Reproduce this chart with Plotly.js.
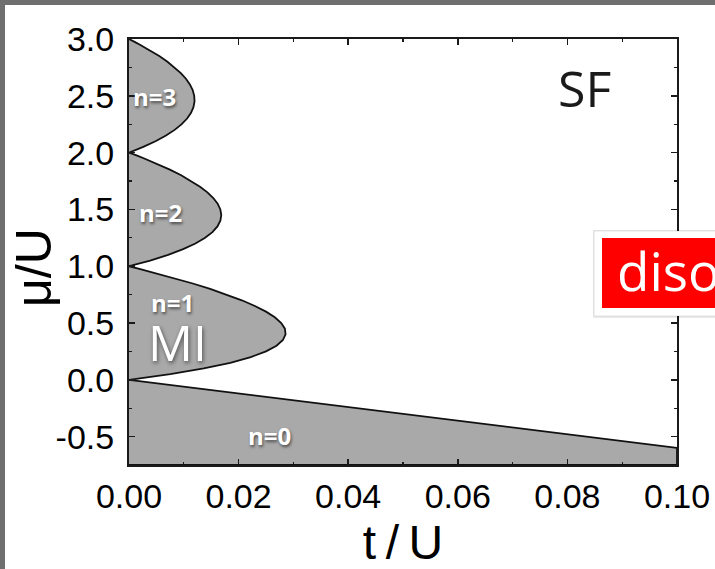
<!DOCTYPE html>
<html>
<head>
<meta charset="utf-8">
<script src="https://cdn.plot.ly/plotly-3.0.1.min.js"></script>
<style>
  html, body { margin: 0; padding: 0; background: #ffffff; }
  #chart { width: 715px; height: 569px; }
</style>
</head>
<body>
<div id="chart"></div>
<script>
// ---- data ----
// n = 0 region boundary (μ/U vs t/U)
const n0T  = [0, 0.1];
const n0Mu = [0, -0.6];

// Mott lobe n = 1
const lobe1Mu = [0, 0.025, 0.05, 0.1, 0.15, 0.2, 0.25, 0.3, 0.35, 0.4, 0.45, 0.5, 0.55, 0.6, 0.65, 0.7, 0.75, 0.8, 0.85, 0.9, 0.95, 0.975, 1.0];
const lobe1T  = [0, 0.00396, 0.00754, 0.01364, 0.01848, 0.02222, 0.02500, 0.02692, 0.02809, 0.02857, 0.02845, 0.02778, 0.02661, 0.02500, 0.02298, 0.02059, 0.01786, 0.01481, 0.01149, 0.00789, 0.00406, 0.00206, 0];

// Mott lobe n = 2
const lobe2Mu = [1.0, 1.025, 1.05, 1.1, 1.15, 1.2, 1.25, 1.3, 1.35, 1.4, 1.45, 1.5, 1.55, 1.6, 1.65, 1.7, 1.75, 1.8, 1.85, 1.9, 1.95, 1.975, 2.0];
const lobe2T  = [0, 0.00201, 0.00386, 0.00714, 0.00988, 0.01212, 0.01389, 0.01522, 0.01614, 0.01667, 0.01684, 0.01667, 0.01618, 0.01538, 0.01431, 0.01296, 0.01136, 0.00952, 0.00746, 0.00517, 0.00268, 0.00137, 0];

// Mott lobe n = 3
const lobe3Mu = [2.0, 2.025, 2.05, 2.1, 2.15, 2.2, 2.25, 2.3, 2.35, 2.4, 2.45, 2.5, 2.55, 2.6, 2.65, 2.7, 2.75, 2.8, 2.85, 2.9, 2.95, 2.975, 3.0];
const lobe3T  = [0, 0.00134, 0.00260, 0.00484, 0.00675, 0.00833, 0.00962, 0.01061, 0.01132, 0.01176, 0.01196, 0.01190, 0.01162, 0.01111, 0.01039, 0.00946, 0.00833, 0.00702, 0.00552, 0.00385, 0.00200, 0.00102, 0];

// region labels
const regionLabels = ['n=3', 'n=2', 'n=1', 'n=0'];
const labelT  = [0.0047, 0.0058, 0.0079, 0.0256];
const labelMu = [2.49, 1.47, 0.68, -0.49];

// phase names
const phaseNames = ['MI', 'SF'];
const phaseT  = [0.0088, 0.0832];
const phaseMu = [0.33, 2.57];

// axes
const xRange = [0, 0.1];
const yRange = [-0.75, 3.0];
const xTickVals = [0, 0.02, 0.04, 0.06, 0.08, 0.10];
const xTickText = ['0.00', '0.02', '0.04', '0.06', '0.08', '0.10'];
const yTickVals = [-0.5, 0, 0.5, 1.0, 1.5, 2.0, 2.5, 3.0];
const yTickText = ['-0.5', '0.0', '0.5', '1.0', '1.5', '2.0', '2.5', '3.0'];
const xMinorVals = [0.01, 0.03, 0.05, 0.07, 0.09];
const yMinorVals = [-0.75, -0.25, 0.25, 0.75, 1.25, 1.75, 2.25, 2.75];
const xTitle = 't\u2009/\u2009U';
const yTitle = 'μ/U';

const bannerText = 'diso';

// ---- styling ----
const FILL = '#a9a9a9';
const LINE = {color: '#111111', width: 1.8};
const FRAME = '#6f6f6f';

const traces = [
  {
    x: n0T.concat([xRange[1], xRange[0]]),
    y: n0Mu.concat([yRange[0], yRange[0]]),
    mode: 'lines', fill: 'toself', fillcolor: FILL, line: LINE, hoverinfo: 'skip'
  },
  { x: lobe1T, y: lobe1Mu, mode: 'lines', fill: 'toself', fillcolor: FILL, line: LINE, hoverinfo: 'skip' },
  { x: lobe2T, y: lobe2Mu, mode: 'lines', fill: 'toself', fillcolor: FILL, line: LINE, hoverinfo: 'skip' },
  { x: lobe3T, y: lobe3Mu, mode: 'lines', fill: 'toself', fillcolor: FILL, line: LINE, hoverinfo: 'skip' }
];

const W = 715, H = 569;
const mL = 129, mR = 38, mT = 39, mB = 104;
const pw = W - mL - mR, ph = H - mT - mB;
const px = v => (v - mL) / pw;        // pixel x -> paper x
const py = v => (H - mB - v) / ph;    // pixel y -> paper y

const annotations = [];
regionLabels.forEach((s, i) => annotations.push({
  x: labelT[i], y: labelMu[i], xref: 'x', yref: 'y', text: s, showarrow: false,
  xanchor: 'center', yanchor: 'middle',
  font: {family: 'Open Sans, sans-serif', size: 24, color: '#ffffff', weight: 'bold',
         shadow: '1px 2px 3px rgba(0,0,0,0.55)'}
}));
annotations.push({
  x: phaseT[0], y: phaseMu[0], xref: 'x', yref: 'y', text: phaseNames[0], showarrow: false,
  xanchor: 'center', yanchor: 'middle',
  font: {family: 'Open Sans, sans-serif', size: 50, color: '#ffffff',
         shadow: '1px 2px 4px rgba(0,0,0,0.55)'}
});
annotations.push({
  x: phaseT[1], y: phaseMu[1], xref: 'x', yref: 'y', text: phaseNames[1], showarrow: false,
  xanchor: 'center', yanchor: 'middle',
  font: {family: 'Open Sans, sans-serif', size: 50, color: '#1a1a1a'}
});
// y-axis title (placed explicitly to match reference position)
annotations.push({
  x: px(34), y: py(268), xref: 'paper', yref: 'paper', text: yTitle, showarrow: false,
  xanchor: 'center', yanchor: 'middle', textangle: -90,
  font: {family: 'Liberation Sans, Arial, sans-serif', size: 50, color: '#000000'}
});
annotations.push({
  x: px(615), y: py(270), xref: 'paper', yref: 'paper', text: bannerText, showarrow: false,
  xanchor: 'left', yanchor: 'middle',
  font: {family: 'Open Sans, sans-serif', size: 53, color: '#ffffff'}
});

const shapes = [
  // outer frame strips
  {type: 'rect', xref: 'paper', yref: 'paper', x0: px(0), x1: px(W), y0: py(5), y1: py(0),
   fillcolor: FRAME, line: {width: 0}, layer: 'above'},
  {type: 'rect', xref: 'paper', yref: 'paper', x0: px(0), x1: px(5), y0: py(H), y1: py(0),
   fillcolor: FRAME, line: {width: 0}, layer: 'above'},
  // banner shadow + white card
  {type: 'rect', xref: 'paper', yref: 'paper', x0: px(593), x1: px(W + 5), y0: py(318), y1: py(230),
   fillcolor: 'rgba(0,0,0,0.08)', line: {width: 0}, layer: 'above'},
  {type: 'rect', xref: 'paper', yref: 'paper', x0: px(594), x1: px(W + 5), y0: py(316), y1: py(231),
   fillcolor: '#ffffff', line: {color: 'rgba(0,0,0,0.10)', width: 1}, layer: 'above'},
  // red banner
  {type: 'rect', xref: 'paper', yref: 'paper', x0: px(602), x1: px(W + 5), y0: py(308), y1: py(238),
   fillcolor: '#ff0000', line: {width: 0}, layer: 'above'}
];

const axisCommon = {
  showline: true, linecolor: '#1a1a1a', linewidth: 2, mirror: 'allticks',
  ticks: 'inside', ticklen: 6, tickwidth: 1.5, tickcolor: '#1a1a1a',
  showgrid: false, zeroline: false, tickmode: 'array',
  tickfont: {family: 'Liberation Sans, Arial, sans-serif', size: 34, color: '#000000'},
  fixedrange: true
};

const layout = {
  width: W, height: H,
  margin: {l: mL, r: mR, t: mT, b: mB, pad: 0},
  paper_bgcolor: '#ffffff', plot_bgcolor: '#ffffff',
  showlegend: false, hovermode: false,
  xaxis: Object.assign({}, axisCommon, {
    range: xRange, tickvals: xTickVals, ticktext: xTickText,
    ticklabelstandoff: 0,
    minor: {tickmode: 'array', tickvals: xMinorVals, ticks: 'inside', ticklen: 3, tickwidth: 1.2, tickcolor: '#1a1a1a'},
    title: {text: xTitle, standoff: 12,
            font: {family: 'Liberation Sans, Arial, sans-serif', size: 48, color: '#000000'}}
  }),
  yaxis: Object.assign({}, axisCommon, {
    range: yRange, tickvals: yTickVals, ticktext: yTickText,
    ticklabelstandoff: 6,
    minor: {tickmode: 'array', tickvals: yMinorVals, ticks: 'inside', ticklen: 3, tickwidth: 1.2, tickcolor: '#1a1a1a'}
  }),
  annotations: annotations,
  shapes: shapes
};

Plotly.newPlot('chart', traces, layout, {displayModeBar: false, staticPlot: true});
</script>
</body>
</html>
